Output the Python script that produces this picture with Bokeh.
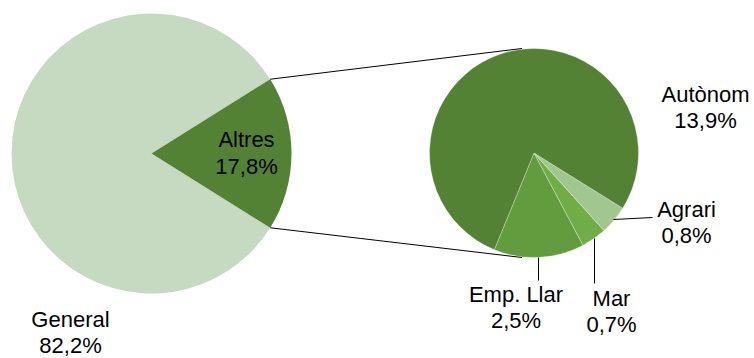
import math
from bokeh.plotting import figure
from bokeh.models import Range1d, ColumnDataSource
from bokeh.core.properties import value
from bokeh.embed import file_html
from bokeh.resources import INLINE

# ---- data ----
main_labels = ["General", "Altres"]
main_values = [82.2, 17.8]
main_colors = ["#C5DAC0", "#548235"]

sub_labels = ["Emp. Llar", "Mar", "Agrari", "Autònom"]
sub_values = [2.5, 0.7, 0.8, 13.9]
sub_colors = ["#639B3F", "#70AD47", "#A2C68F", "#548235"]

def pct(v):
    return ("%.1f" % v).replace(".", ",") + "%"

# ---- layout (page pixel coords, converted to data with y up) ----
W, H = 754, 358
def Y(py):
    return H - py

cx1, cy1, r1 = 151, Y(153), 140
cx2, cy2, r2 = 533.5, Y(152.5), 104.5
sub_start = math.radians(247.7)

p = figure(width=W, height=H, output_backend="svg", toolbar_location=None,
           x_range=Range1d(0, W), y_range=Range1d(0, H),
           x_axis_location=None, y_axis_location=None, min_border=0,
           outline_line_color=None)
p.grid.visible = False
p.background_fill_color = "white"
p.border_fill_color = "white"

# left pie: "Altres" centred on the right
tot = sum(main_values)
half = main_values[1] / tot * math.pi
main_start = [half, -half]
main_end = [2 * math.pi - half, half]
p.wedge(x=cx1, y=cy1, radius=r1, start_angle=main_start, end_angle=main_end,
        fill_color=main_colors, line_color=None, direction="anticlock")

# right pie
stot = sum(sub_values)
starts, ends = [], []
a = sub_start
for v in sub_values:
    starts.append(a)
    a += v / stot * 2 * math.pi
    ends.append(a)
p.wedge(x=cx2, y=cy2, radius=r2, start_angle=starts, end_angle=ends,
        fill_color=sub_colors, line_color="white", line_alpha=0.5, line_width=0.6,
        direction="anticlock")

# connector lines
tx = cx1 + r1 * math.cos(half)
ty = cy1 + r1 * math.sin(half)
bx = cx1 + r1 * math.cos(-half)
by = cy1 + r1 * math.sin(-half)
p.segment(x0=[tx, bx], y0=[ty, by], x1=[cx2 - 12, cx2 - 12], y1=[cy2 + r2, cy2 - r2],
          line_color="black", line_width=1)

# leader lines for small slices
lead_x0 = [613, 538, 594]
lead_y0 = [Y(219), Y(257), Y(238)]
lead_x1 = [652, 538, 594]
lead_y1 = [Y(217), Y(280), Y(283)]
p.segment(x0=lead_x0, y0=lead_y0, x1=lead_x1, y1=lead_y1, line_color="black", line_width=1)

# labels (baseline of the name line, page pixels)
lab_names = ["General", "Altres", "Autònom", "Emp. Llar", "Mar", "Agrari"]
lab_vals = [main_values[0], main_values[1], sub_values[3], sub_values[0], sub_values[1], sub_values[2]]
lab_x = [70, 246, 705, 515.5, 611, 686]
lab_y = [327, 147.5, 102, 302, 306, 217]
SHIFT = 8.5
names_src = ColumnDataSource(dict(x=lab_x, y=[Y(v - SHIFT) for v in lab_y], t=lab_names))
vals_src = ColumnDataSource(dict(x=lab_x, y=[Y(v + 26.5 - SHIFT) for v in lab_y], t=[pct(v) for v in lab_vals]))
for src in (names_src, vals_src):
    p.text(x="x", y="y", text="t", source=src, text_font=value("Liberation Sans"),
           text_font_size="22px", text_align="center", text_baseline="alphabetic",
           text_color="#000000")

open("out.html", "w").write(file_html(p, INLINE))
